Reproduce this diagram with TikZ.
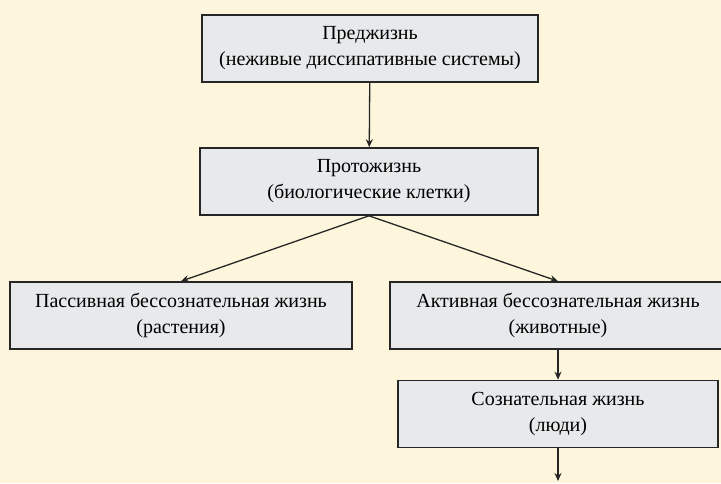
\documentclass[tikz,border=0pt]{standalone}
\usepackage{fontspec}
\setmainfont{Liberation Serif}
\usetikzlibrary{arrows.meta}
\definecolor{paper}{HTML}{FDF5DC}
\definecolor{boxgray}{HTML}{E7E9EB}

\begin{document}
\begin{tikzpicture}[x=1pt,y=-1pt,
    lifebox/.style={draw=black!85, line width=1.6pt, fill=boxgray, inner sep=0pt,
        minimum height=67pt, align=center, font=\fontsize{20}{26}\selectfont},
    link/.style={-{Stealth[length=8pt,width=7pt]}, line width=1.3pt, color=black!85}]
    \fill[paper] (0,0) rectangle (721,483);
    \useasboundingbox (0,0) rectangle (721,483);

    \node[lifebox, minimum width=336pt] (prelife) at (370,48.5) {Преджизнь\\(неживые диссипативные системы)};
    \node[lifebox, minimum width=338pt] (protolife) at (369,181.5) {Протожизнь\\(биологические клетки)};
    \node[lifebox, minimum width=342pt] (passive) at (181,315.5) {Пассивная бессознательная жизнь\\(растения)};
    \node[lifebox, minimum width=336pt] (active) at (558,315.5) {Активная бессознательная жизнь\\(животные)};
    \node[lifebox, minimum width=320pt] (conscious) at (558,414) {Сознательная жизнь\\(люди)};
    \coordinate (further) at (558,481);

    \draw[link] (prelife) -- (protolife);
    \draw[link] (protolife.south) -- (passive.north);
    \draw[link] (protolife.south) -- (active.north);
    \draw[link] (active) -- (conscious);
    \draw[link] (conscious) -- (further);
\end{tikzpicture}
\end{document}
